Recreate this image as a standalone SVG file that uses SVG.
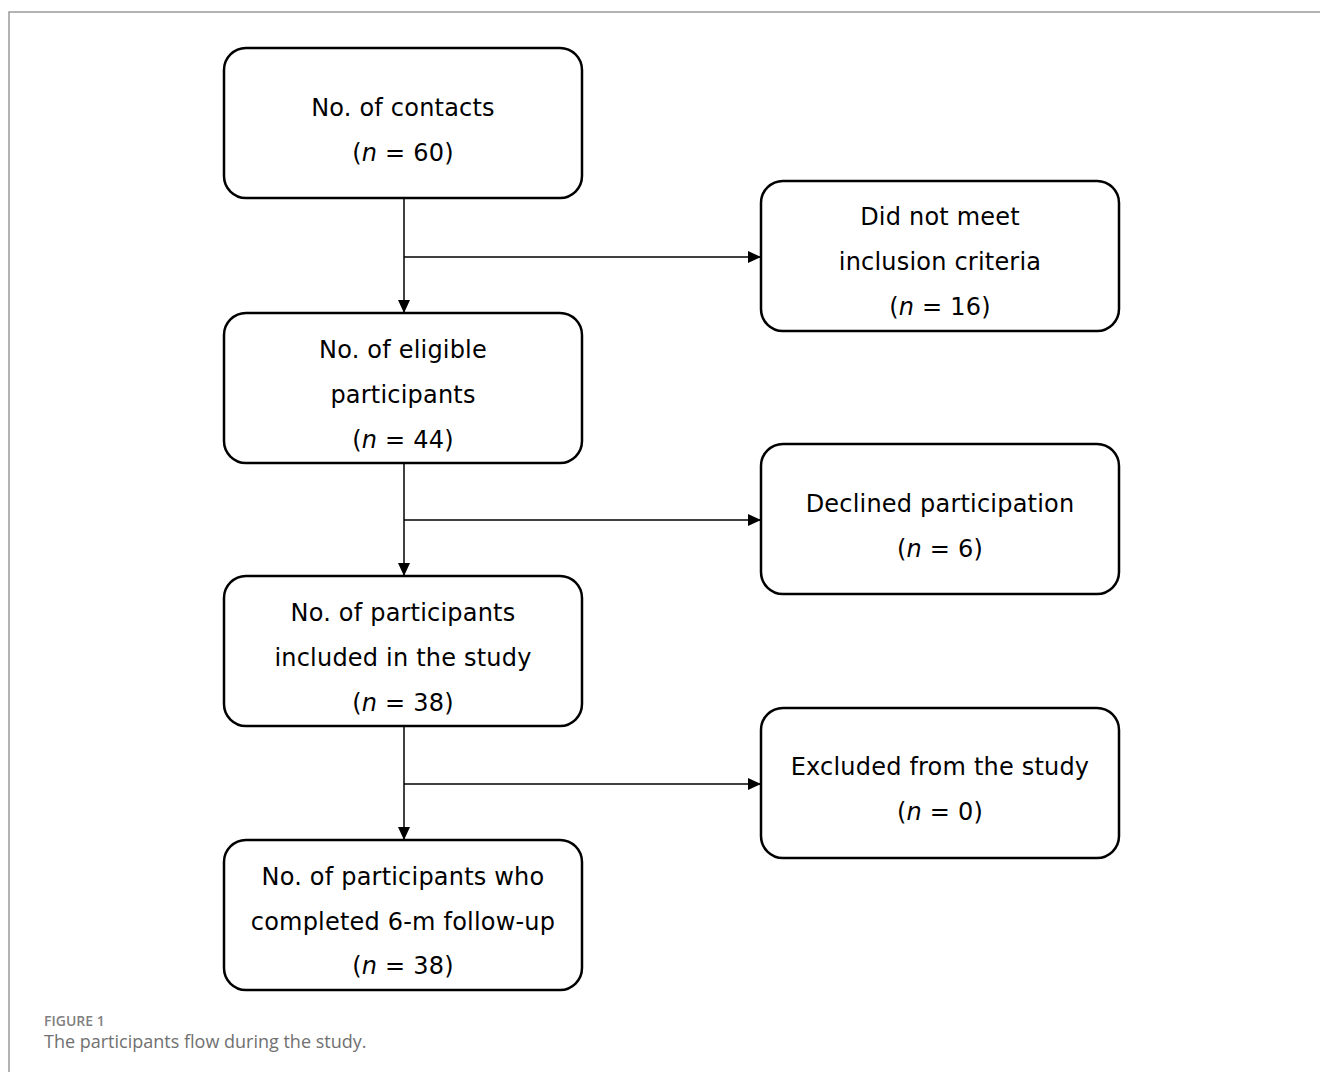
<svg xmlns="http://www.w3.org/2000/svg" width="1320" height="1072" viewBox="0 0 1320 1072">
<defs>
<style>
.box{fill:#fff;stroke:#000;stroke-width:2.5}
.t{font-family:"DejaVu Sans","Liberation Sans",sans-serif;font-size:24px;letter-spacing:0.2px;fill:#000;text-anchor:middle}
.ln{stroke:#000;stroke-width:1.5;fill:none}
.frame{stroke:#9a9a9a;stroke-width:1.5;fill:none}
.cap1{font-family:"Open Sans","Liberation Sans",sans-serif;font-size:14px;font-weight:600;fill:#808080}
.cap2{font-family:"Open Sans","Liberation Sans",sans-serif;font-size:18px;fill:#707070}
</style>
<marker id="ah" viewBox="0 0 13 12" refX="13" refY="6" markerWidth="13" markerHeight="12" markerUnits="userSpaceOnUse" orient="auto">
<path d="M0,0 L13,6 L0,12 z" fill="#000"/>
</marker>
</defs>
<rect width="1320" height="1072" fill="#fff"/>
<path class="frame" d="M9,1072 V12 H1320"/>
<g id="connectors">
<line class="ln" x1="404" y1="198" x2="404" y2="313" marker-end="url(#ah)"/>
<line class="ln" x1="404" y1="257" x2="761" y2="257" marker-end="url(#ah)"/>
<line class="ln" x1="404" y1="463" x2="404" y2="576" marker-end="url(#ah)"/>
<line class="ln" x1="404" y1="520" x2="761" y2="520" marker-end="url(#ah)"/>
<line class="ln" x1="404" y1="726" x2="404" y2="840" marker-end="url(#ah)"/>
<line class="ln" x1="404" y1="784" x2="761" y2="784" marker-end="url(#ah)"/>
</g>
<g id="n1">
<rect class="box" x="224" y="48" width="358" height="150" rx="22"/>
<text class="t" x="403" y="116">No. of contacts</text>
<text class="t" x="403" y="161">(<tspan font-style="italic">n</tspan> = 60)</text>
</g>
<g id="n2">
<rect class="box" x="224" y="313" width="358" height="150" rx="22"/>
<text class="t" x="403" y="358">No. of eligible</text>
<text class="t" x="403" y="403">participants</text>
<text class="t" x="403" y="448">(<tspan font-style="italic">n</tspan> = 44)</text>
</g>
<g id="n3">
<rect class="box" x="224" y="576" width="358" height="150" rx="22"/>
<text class="t" x="403" y="621">No. of participants</text>
<text class="t" x="403" y="666">included in the study</text>
<text class="t" x="403" y="711">(<tspan font-style="italic">n</tspan> = 38)</text>
</g>
<g id="n4">
<rect class="box" x="224" y="840" width="358" height="150" rx="22"/>
<text class="t" x="403" y="885">No. of participants who</text>
<text class="t" x="403" y="930">completed 6-m follow-up</text>
<text class="t" x="403" y="974">(<tspan font-style="italic">n</tspan> = 38)</text>
</g>
<g id="r1">
<rect class="box" x="761" y="181" width="358" height="150" rx="22"/>
<text class="t" x="940" y="225">Did not meet</text>
<text class="t" x="940" y="270">inclusion criteria</text>
<text class="t" x="940" y="315">(<tspan font-style="italic">n</tspan> = 16)</text>
</g>
<g id="r2">
<rect class="box" x="761" y="444" width="358" height="150" rx="22"/>
<text class="t" x="940" y="512">Declined participation</text>
<text class="t" x="940" y="557">(<tspan font-style="italic">n</tspan> = 6)</text>
</g>
<g id="r3">
<rect class="box" x="761" y="708" width="358" height="150" rx="22"/>
<text class="t" x="940" y="775">Excluded from the study</text>
<text class="t" x="940" y="820">(<tspan font-style="italic">n</tspan> = 0)</text>
</g>
<g id="caption">
<text class="cap1" x="44" y="1026">FIGURE 1</text>
<text class="cap2" x="44" y="1048">The participants flow during the study.</text>
</g>
</svg>
